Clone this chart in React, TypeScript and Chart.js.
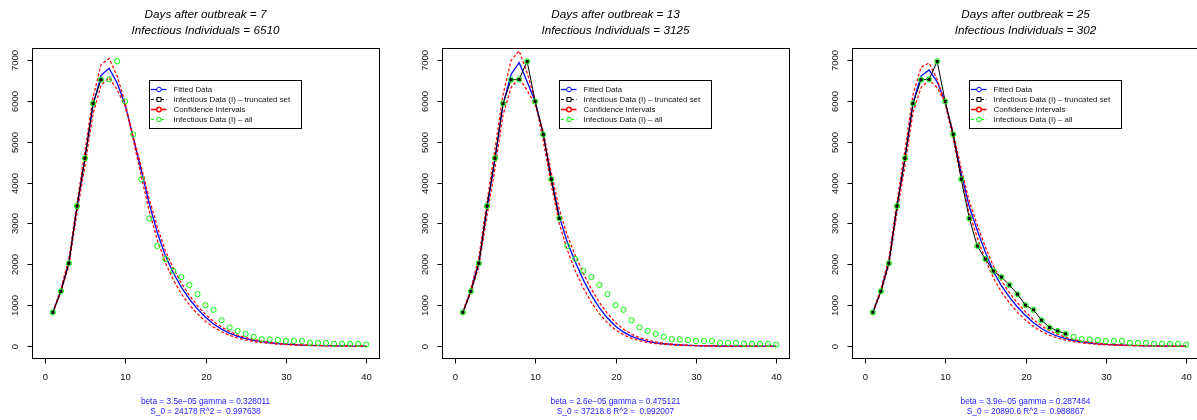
import React, { useEffect, useRef } from "react";
import { Chart, registerables } from "chart.js";
Chart.register(...registerables);

// ---------- DATA ----------
const days = [1, 2, 3, 4, 5, 6, 7, 8, 9, 10, 11, 12, 13, 14, 15, 16, 17, 18, 19, 20, 21, 22, 23, 24, 25, 26, 27, 28, 29, 30, 31, 32, 33, 34, 35, 36, 37, 38, 39, 40];

const infectiousAll = [830, 1343, 2026, 3426, 4597, 5932, 6510, 6518, 6960, 5980, 5175, 4080, 3125, 2449, 2132, 1840, 1692, 1497, 1273, 1005, 890, 637, 460, 375, 302, 230, 175, 168, 152, 130, 130, 130, 82, 82, 82, 60, 60, 58, 58, 42];

const xTicks = [0, 10, 20, 30, 40];
const yTicks = [0, 1000, 2000, 3000, 4000, 5000, 6000, 7000];

const legendLabels = ["Fitted Data", "Infectious Data (I) \u2013 truncated set", "Confidence Intervals", "Infectious Data (I) \u2013 all"];

// Panel 1
const truncated1 = 7;
const title1 = ["Days after outbreak = 7", "Infectious Individuals = 6510"];
const footer1 = ["beta = 3.5e\u221205 gamma = 0.328011", "S_0 = 24178 R^2 =  0.997638"];
const fit1 = [830, 1355, 2060, 3380, 4600, 5890, 6620, 6790, 6430, 5900, 5100, 4300, 3480, 2780, 2210, 1790, 1440, 1150, 910, 710, 545, 420, 318, 243, 186, 144, 112, 86, 66, 51, 39, 30, 23, 18, 14, 11, 8, 6, 5, 4];
const ciHigh1 = [850, 1400, 2150, 3500, 4780, 6080, 6880, 7030, 6600, 5950, 5050, 4150, 3300, 2600, 2040, 1620, 1280, 1010, 790, 610, 465, 355, 268, 202, 153, 117, 89, 68, 52, 40, 30, 23, 18, 14, 11, 8, 6, 5, 4, 3];
const ciLow1 = [815, 1315, 1980, 3250, 4420, 5680, 6380, 6560, 6270, 5850, 5120, 4390, 3600, 2920, 2340, 1900, 1540, 1240, 990, 780, 605, 470, 360, 275, 212, 164, 128, 99, 77, 60, 46, 36, 28, 22, 17, 13, 10, 8, 6, 5];

// Panel 2
const truncated2 = 13;
const title2 = ["Days after outbreak = 13", "Infectious Individuals = 3125"];
const footer2 = ["beta = 2.6e\u221205 gamma = 0.475121", "S_0 = 37218.8 R^2 =  0.992007"];
const fit2 = [830, 1360, 2070, 3350, 4580, 5900, 6640, 6930, 6460, 5980, 5200, 4100, 3180, 2540, 2060, 1620, 1250, 940, 690, 490, 345, 242, 172, 122, 86, 62, 45, 32, 23, 17, 12, 9, 7, 5, 4, 3, 2, 2, 1, 1];
const ciHigh2 = [850, 1410, 2190, 3530, 4820, 6150, 6980, 7220, 6680, 6000, 5020, 3950, 3000, 2350, 1840, 1420, 1070, 790, 570, 400, 280, 195, 136, 95, 66, 46, 32, 23, 16, 11, 8, 6, 4, 3, 2, 2, 1, 1, 1, 1];
const ciLow2 = [815, 1310, 1960, 3180, 4350, 5650, 6320, 6560, 6250, 5900, 5260, 4250, 3350, 2710, 2220, 1780, 1400, 1070, 800, 580, 415, 295, 210, 150, 106, 76, 55, 40, 29, 21, 15, 11, 8, 6, 4, 3, 2, 2, 1, 1];

// Panel 3
const truncated3 = 25;
const title3 = ["Days after outbreak = 25", "Infectious Individuals = 302"];
const footer3 = ["beta = 3.9e\u221205 gamma = 0.287464", "S_0 = 20890.6 R^2 =  0.988867"];
const fit3 = [830, 1355, 2070, 3400, 4600, 5950, 6600, 6750, 6460, 5975, 5160, 4225, 3410, 2830, 2300, 1830, 1480, 1200, 960, 750, 575, 435, 325, 245, 185, 140, 106, 80, 61, 46, 35, 27, 20, 15, 12, 9, 7, 5, 4, 3];
const ciHigh3 = [850, 1400, 2160, 3540, 4800, 6150, 6820, 6920, 6520, 5930, 5050, 4080, 3250, 2650, 2120, 1670, 1330, 1060, 830, 640, 485, 362, 268, 200, 150, 112, 84, 63, 47, 35, 26, 20, 15, 11, 8, 6, 5, 4, 3, 2];
const ciLow3 = [815, 1310, 1990, 3260, 4420, 5720, 6320, 6500, 6320, 5950, 5230, 4340, 3540, 2960, 2430, 1960, 1600, 1310, 1060, 840, 650, 500, 380, 288, 218, 166, 127, 97, 74, 57, 44, 34, 26, 20, 15, 12, 9, 7, 5, 4];

const legendAnchorX = 13;
const legendAnchorY = 6500;

// ---------- STYLE ----------
const FONT = '"Liberation Sans", Arial, Helvetica, sans-serif';
const BLUE = "#0000ff";
const RED = "#ff0000";
const GREEN = "#00ff00";
const PANEL_W = 410;
const PANEL_H = 420;

type Panel = {
  truncated: number;
  title: string[];
  footer: string[];
  fit: number[];
  hi: number[];
  lo: number[];
};

const panels: Panel[] = [
  { truncated: truncated1, title: title1, footer: footer1, fit: fit1, hi: ciHigh1, lo: ciLow1 },
  { truncated: truncated2, title: title2, footer: footer2, fit: fit2, hi: ciHigh2, lo: ciLow2 },
  { truncated: truncated3, title: title3, footer: footer3, fit: fit3, hi: ciHigh3, lo: ciLow3 },
];

const pts = (xs: number[], ys: number[]) => ys.map((v, i) => ({ x: xs[i], y: v }));

const decoPlugin = {
  id: "deco",
  afterDraw(chart: any, _args: any, opts: any) {
    const p: Panel = opts.panel;
    const { ctx, chartArea: a } = chart;
    const xs = chart.scales.x;
    const ys = chart.scales.y;
    ctx.save();
    // box
    ctx.strokeStyle = "#000";
    ctx.lineWidth = 1;
    ctx.setLineDash([]);
    ctx.strokeRect(Math.round(a.left) + 0.5, Math.round(a.top) + 0.5, Math.round(a.right - a.left), Math.round(a.bottom - a.top));
    const bottom = Math.round(a.bottom) + 0.5;
    const left = Math.round(a.left) + 0.5;
    // x axis
    ctx.fillStyle = "#111";
    ctx.font = `9.5px ${FONT}`;
    ctx.textAlign = "center";
    ctx.textBaseline = "middle";
    ctx.beginPath();
    ctx.moveTo(Math.round(xs.getPixelForValue(xTicks[0])) + 0.5, bottom);
    ctx.lineTo(Math.round(xs.getPixelForValue(xTicks[xTicks.length - 1])) + 0.5, bottom);
    ctx.stroke();
    xTicks.forEach((v) => {
      const px = Math.round(xs.getPixelForValue(v)) + 0.5;
      ctx.beginPath();
      ctx.moveTo(px, bottom);
      ctx.lineTo(px, bottom + 5);
      ctx.stroke();
      ctx.fillText(String(v), px, 377);
    });
    // y axis
    yTicks.forEach((v) => {
      const py = Math.round(ys.getPixelForValue(v)) + 0.5;
      ctx.beginPath();
      ctx.moveTo(left - 5, py);
      ctx.lineTo(left, py);
      ctx.stroke();
      ctx.save();
      ctx.translate(15.5, py);
      ctx.rotate(-Math.PI / 2);
      ctx.fillText(String(v), 0, 0);
      ctx.restore();
    });
    const cx = (a.left + a.right) / 2;
    // title
    ctx.fillStyle = "#000";
    ctx.font = `italic 11.7px ${FONT}`;
    ctx.fillText(p.title[0], cx, 15);
    ctx.fillText(p.title[1], cx, 31);
    // footer
    ctx.fillStyle = "#2222ff";
    ctx.font = `8.3px ${FONT}`;
    ctx.fillText(p.footer[0], cx, 402);
    ctx.fillText(p.footer[1], cx, 412);
    // legend
    const lx = Math.round(xs.getPixelForValue(legendAnchorX)) + 0.5;
    const ly = Math.round(ys.getPixelForValue(legendAnchorY)) + 0.5;
    ctx.strokeStyle = "#000";
    ctx.lineWidth = 1;
    ctx.fillStyle = "#fff";
    ctx.fillRect(lx, ly, 152, 48);
    ctx.strokeRect(lx, ly, 152, 48);
    const colors = [BLUE, "#000", RED, GREEN];
    const dashes = [[], [3, 2], [], [3, 2]];
    const widths = [1.3, 1, 1.6, 1];
    ctx.font = `7.9px ${FONT}`;
    ctx.textAlign = "left";
    legendLabels.forEach((lab, i) => {
      const cy = ly + 9 + i * 10;
      ctx.strokeStyle = colors[i];
      ctx.lineWidth = widths[i];
      ctx.setLineDash(dashes[i]);
      ctx.beginPath();
      ctx.moveTo(lx + 1.5, cy);
      ctx.lineTo(lx + 17, cy);
      ctx.stroke();
      ctx.setLineDash([]);
      ctx.lineWidth = 1;
      ctx.fillStyle = "#fff";
      if (i === 1) {
        ctx.fillRect(lx + 7.5, cy - 2, 4, 4);
        ctx.strokeRect(lx + 7.5, cy - 2, 4, 4);
      } else {
        ctx.beginPath();
        ctx.arc(lx + 9.5, cy, 2.3, 0, Math.PI * 2);
        ctx.fill();
        ctx.lineWidth = i === 2 ? 1.4 : 1;
        ctx.stroke();
      }
      ctx.fillStyle = "#111";
      ctx.fillText(lab, lx + 24, cy + 0.5);
    });
    ctx.restore();
  },
};

function PanelChart({ panel }: { panel: Panel }) {
  const ref = useRef<HTMLCanvasElement | null>(null);
  useEffect(() => {
    if (!ref.current) return;
    const n = panel.truncated;
    const chart = new Chart(ref.current, {
      type: "scatter",
      data: {
        datasets: [
          {
            label: "all",
            data: pts(days, infectiousAll),
            showLine: false,
            pointStyle: "circle",
            pointRadius: 2.6,
            pointBorderColor: GREEN,
            pointBackgroundColor: "rgba(0,0,0,0)",
            pointBorderWidth: 1,
          },
          {
            label: "truncated",
            data: pts(days.slice(0, n), infectiousAll.slice(0, n)),
            showLine: true,
            borderColor: "#000",
            borderWidth: 1,
            pointStyle: "rect",
            pointRadius: 2.3,
            pointBackgroundColor: "#000",
            pointBorderColor: "#000",
            pointBorderWidth: 0,
          },
          {
            label: "ciHigh",
            data: pts(days, panel.hi),
            showLine: true,
            borderColor: RED,
            borderWidth: 1.2,
            borderDash: [3, 2],
            pointRadius: 0,
          },
          {
            label: "ciLow",
            data: pts(days, panel.lo),
            showLine: true,
            borderColor: RED,
            borderWidth: 1.2,
            borderDash: [3, 2],
            pointRadius: 0,
          },
          {
            label: "fit",
            data: pts(days, panel.fit),
            showLine: true,
            borderColor: BLUE,
            borderWidth: 1.3,
            pointRadius: 0,
          },
        ],
      },
      options: {
        animation: false,
        responsive: false,
        devicePixelRatio: 1,
        events: [],
        layout: { padding: { left: 32, right: 31, top: 48, bottom: 62 } },
        scales: {
          x: { type: "linear", min: -1.6, max: 41.6, display: false },
          y: { type: "linear", min: -286, max: 7286, display: false },
        },
        plugins: {
          legend: { display: false },
          tooltip: { enabled: false },
          deco: { panel },
        } as any,
      },
      plugins: [decoPlugin],
    });
    return () => chart.destroy();
  }, [panel]);
  return <canvas ref={ref} width={PANEL_W} height={PANEL_H} style={{ display: "block", width: PANEL_W, height: PANEL_H }} />;
}

export default function App() {
  return (
    <div
      style={{
        position: "absolute",
        left: 0,
        top: 0,
        width: 1197,
        height: 420,
        overflow: "hidden",
        background: "#fff",
        display: "flex",
      }}
    >
      {panels.map((p, i) => (
        <div key={i} style={{ flex: "none", width: PANEL_W, height: PANEL_H }}>
          <PanelChart panel={p} />
        </div>
      ))}
    </div>
  );
}
